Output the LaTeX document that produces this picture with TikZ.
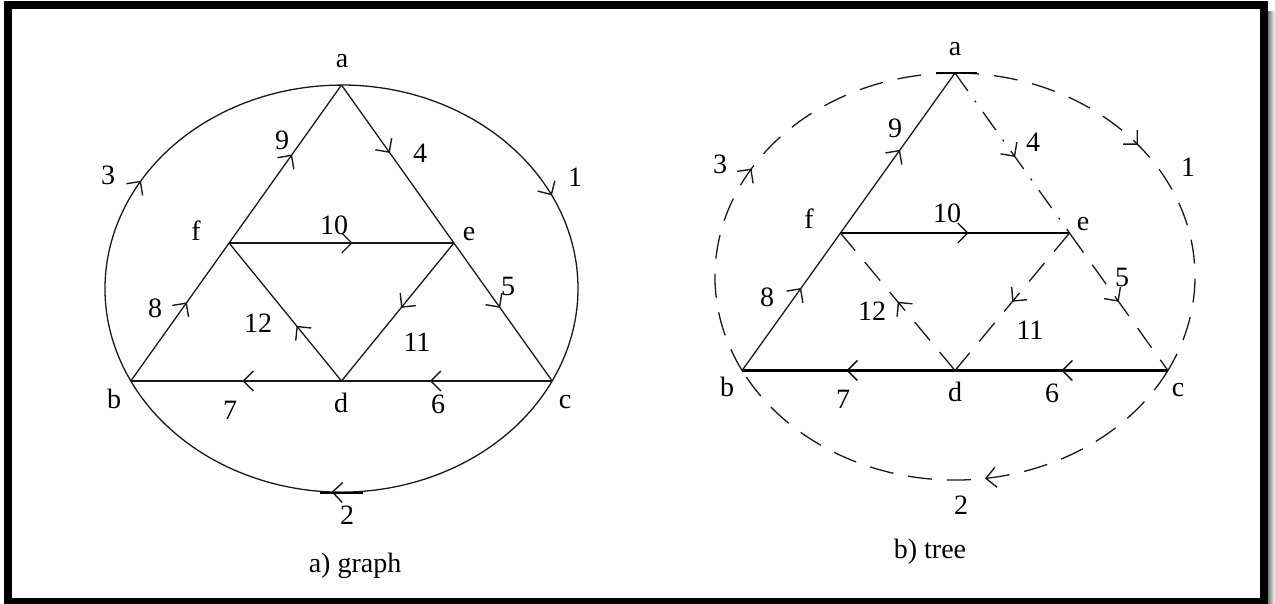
\documentclass[tikz,border=0pt]{standalone}
\usepackage{fontspec}
\setmainfont{Liberation Serif}
\usetikzlibrary{arrows.meta,decorations.markings}
\tikzset{
  lbl/.style={font=\fontsize{28}{32}\selectfont, inner sep=0pt},
  edge/.style={line width=1.3pt, draw=black!90},
  tedge/.style={line width=2.3pt, draw=black},
  dsh/.style={line width=1.3pt, draw=black!90, dash pattern=on 24pt off 15pt},
  dshdot/.style={line width=1.3pt, draw=black!90, dash pattern=on 22pt off 12pt on 2pt off 12pt},
  arr/.style={postaction={decorate, decoration={markings,
      mark=at position #1 with {\arrow[line width=1.4pt]{Straight Barb[length=10pt,width=20pt]}}}}},
}
\begin{document}
\begin{tikzpicture}[x=1pt,y=-1pt]
\useasboundingbox (0,0) rectangle (1275,604);
% frame
\shade[left color=black!60, right color=white] (1267,12) rectangle (1275,604);
\draw[line width=8pt] (7.5,5) rectangle (1264,602);

% ---------- a) graph ----------
\coordinate (a1) at (341.5,85);
\coordinate (b1) at (130.8,381);
\coordinate (c1) at (552.2,381);
\coordinate (d1) at (341.5,381);
\coordinate (f1) at (229.1,243);
\coordinate (e1) at (453.9,243);

\draw[edge, arr=0.56] (a1) arc[start angle=-90, end angle=27, x radius=236.5, y radius=203.5];
\draw[edge, arr=0.52] (c1) arc[start angle=27, end angle=153, x radius=236.5, y radius=203.5];
\draw[edge, arr=0.48] (b1) arc[start angle=153, end angle=270, x radius=236.5, y radius=203.5];
\draw[edge, arr=0.43] (a1) -- (e1);
\draw[edge, arr=0.47] (e1) -- (c1);
\draw[edge, arr=0.58] (c1) -- (d1);
\draw[edge, arr=0.47] (d1) -- (b1);
\draw[edge, arr=0.57] (b1) -- (f1);
\draw[edge, arr=0.56] (f1) -- (a1);
\draw[edge, arr=0.55] (f1) -- (e1);
\draw[edge, arr=0.47] (e1) -- (d1);
\draw[edge, arr=0.40] (d1) -- (f1);
\draw[line width=2.5pt] (320,493) -- (363,493);

\node[lbl] (la1) at (342,61) {a};
\node[lbl] (lf1) at (196,231) {f};
\node[lbl] (le1) at (469,234) {e};
\node[lbl] (lb1) at (114,399) {b};
\node[lbl] (ld1) at (341,403) {d};
\node[lbl] (lc1) at (565,402) {c};
\node[lbl] (n1a) at (575,177) {1};
\node[lbl] (n2a) at (347,515) {2};
\node[lbl] (n3a) at (108,175) {3};
\node[lbl] (n4a) at (420,153) {4};
\node[lbl] (n5a) at (508,286) {5};
\node[lbl] (n6a) at (438,404) {6};
\node[lbl] (n7a) at (230,410) {7};
\node[lbl] (n8a) at (155,308) {8};
\node[lbl] (n9a) at (282,140) {9};
\node[lbl] (n10a) at (334,225) {10};
\node[lbl] (n11a) at (417,342) {11};
\node[lbl] (n12a) at (258,323) {12};
\node[lbl] (capa) at (355,566) {a) graph};

% ---------- b) tree ----------
\coordinate (a2) at (955,73);
\coordinate (b2) at (742.1,370.5);
\coordinate (c2) at (1167.9,370.5);
\coordinate (d2) at (955,370.5);
\coordinate (f2) at (840.5,233);
\coordinate (e2) at (1069.5,233);

\draw[dsh, arr=0.45] (a2) arc[start angle=-90, end angle=27.5, x radius=240, y radius=203.5];
\draw[dsh, arr=0.44] (c2) arc[start angle=27.5, end angle=152.5, x radius=240, y radius=203.5];
\draw[dsh, arr=0.48] (b2) arc[start angle=152.5, end angle=270, x radius=240, y radius=203.5];
\draw[dshdot, arr=0.525] (a2) -- (e2);
\draw[dsh, arr=0.50] (e2) -- (c2);
\draw[tedge, arr=0.50] (c2) -- (d2);
\draw[tedge, arr=0.51] (d2) -- (b2);
\draw[edge, arr=0.60] (b2) -- (f2);
\draw[edge, arr=0.52] (f2) -- (a2);
\draw[tedge, arr=0.56] (f2) -- (e2);
\draw[dsh, arr=0.50] (e2) -- (d2);
\draw[dsh, arr=0.50] (d2) -- (f2);
\draw[line width=2.5pt] (936,73) -- (977,73);

\node[lbl] (la2) at (955,49) {a};
\node[lbl] (lf2) at (809,219) {f};
\node[lbl] (le2) at (1083,224) {e};
\node[lbl] (lb2) at (727,387) {b};
\node[lbl] (ld2) at (955,392) {d};
\node[lbl] (lc2) at (1178,390) {c};
\node[lbl] (n1b) at (1188,167) {1};
\node[lbl] (n2b) at (961,505) {2};
\node[lbl] (n3b) at (720,164) {3};
\node[lbl] (n4b) at (1033,142) {4};
\node[lbl] (n5b) at (1122,277) {5};
\node[lbl] (n6b) at (1052,393) {6};
\node[lbl] (n7b) at (843,399) {7};
\node[lbl] (n8b) at (767,297) {8};
\node[lbl] (n9b) at (895,128) {9};
\node[lbl] (n10b) at (947,213) {10};
\node[lbl] (n11b) at (1030,330) {11};
\node[lbl] (n12b) at (872,311) {12};
\node[lbl] (capb) at (930,552) {b) tree};
\end{tikzpicture}
\end{document}
